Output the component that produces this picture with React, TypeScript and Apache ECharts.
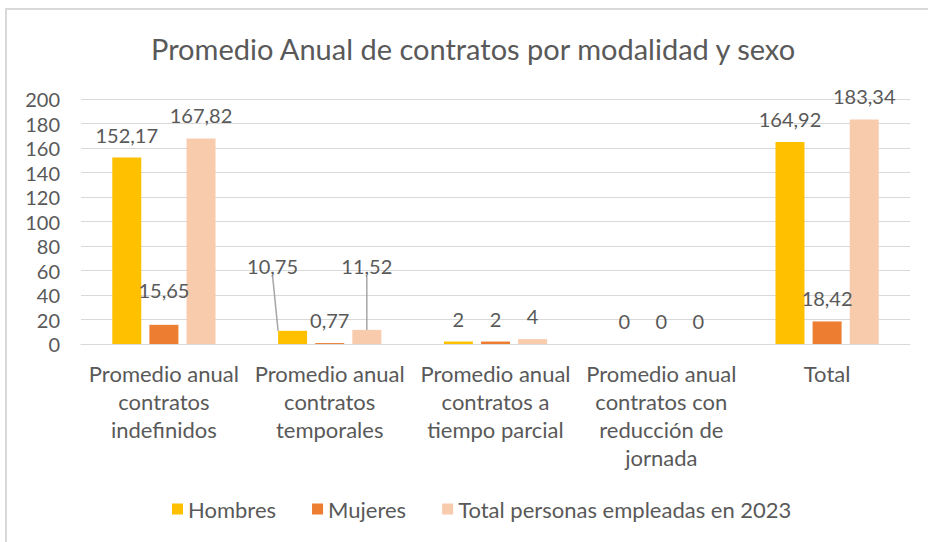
import React, { useEffect, useRef } from "react";
import * as echarts from "echarts";

const title = "Promedio Anual de contratos por modalidad y sexo";
const categories = [
  "Promedio anual\ncontratos\nindefinidos",
  "Promedio anual\ncontratos\ntemporales",
  "Promedio anual\ncontratos a\ntiempo parcial",
  "Promedio anual\ncontratos con\nreducción de\njornada",
  "Total",
];
const seriesNames = ["Hombres", "Mujeres", "Total personas empleadas en 2023"];
const hombres = [152.17, 10.75, 2, 0, 164.92];
const mujeres = [15.65, 0.77, 2, 0, 18.42];
const totalEmpleadas = [167.82, 11.52, 4, 0, 183.34];
const colors = ["#FFC000", "#ED7D31", "#F8CBAD"];
const yTicks = { min: 0, max: 200, interval: 20 };

// label displacements [series][category] = [dx, dy]
const labelShift: Record<string, [number, number]> = {
  "0-1": [-20, -42],
  "2-1": [0, -41],
  "1-0": [0, -12],
};
const leaderLines = new Set(["0-1", "2-1"]);

const TEXT = "#595959";
const FONT = "Lato";

function fmt(v: number): string {
  if (Number.isInteger(v)) return String(v);
  return v.toFixed(2).replace(".", ",");
}

export default function App() {
  const ref = useRef<HTMLDivElement>(null);
  useEffect(() => {
    document.body.style.margin = "0";
    if (!ref.current) return;
    const chart = echarts.init(ref.current, undefined, { renderer: "svg" });
    const allSeries = [hombres, mujeres, totalEmpleadas];
    const option: any = {
      animation: false,
      backgroundColor: "#ffffff",
      textStyle: { fontFamily: FONT, color: TEXT },
      title: {
        text: title,
        left: 146,
        top: 29,
        textStyle: { fontFamily: FONT, fontSize: 29, fontWeight: "normal", color: TEXT },
      },
      graphic: [
        {
          type: "rect",
          silent: true,
          z: -10,
          shape: { x: 6, y: 9, width: 960, height: 580 },
          style: { fill: "none", stroke: "#D9D9D9", lineWidth: 2 },
        },
      ],
      legend: {
        bottom: 17,
        left: 167,
        itemWidth: 11,
        itemHeight: 11,
        itemGap: 36,
        icon: "rect",
        textStyle: { fontFamily: FONT, fontSize: 22, color: TEXT },
        data: seriesNames,
      },
      grid: { left: 81, right: 18, top: 99, bottom: 198, containLabel: false },
      xAxis: {
        type: "category",
        data: categories,
        axisLine: { lineStyle: { color: "#D9D9D9", width: 1 } },
        axisTick: { show: false },
        axisLabel: {
          interval: 0,
          margin: 15,
          fontFamily: FONT,
          fontSize: 22,
          lineHeight: 28,
          color: TEXT,
        },
      },
      yAxis: {
        type: "value",
        min: yTicks.min,
        max: yTicks.max,
        interval: yTicks.interval,
        axisLine: { show: false },
        axisTick: { show: false },
        splitLine: { lineStyle: { color: "#D9D9D9", width: 1 } },
        axisLabel: { margin: 21, fontFamily: FONT, fontSize: 20, color: TEXT },
      },
      series: allSeries.map((vals, si) => ({
        name: seriesNames[si],
        type: "bar",
        barWidth: 29,
        barGap: "28%",
        itemStyle: { color: colors[si] },
        label: {
          show: true,
          position: "top",
          distance: 13,
          fontFamily: FONT,
          fontSize: 20,
          color: TEXT,
          formatter: (p: any) => fmt(p.value),
        },
        labelLine: { show: false, lineStyle: { color: "#A6A6A6", width: 1.5 } },
        labelLayout: (params: any) => {
          const s = labelShift[`${si}-${params.dataIndex}`];
          if (!s) return {};
          return { dx: s[0], dy: s[1] };
        },
        data: vals.map((v, ci) =>
          leaderLines.has(`${si}-${ci}`)
            ? { value: v, labelLine: { show: true, lineStyle: { color: "#A6A6A6", width: 1.5 } } }
            : v
        ),
      })),
    };
    chart.setOption(option);
    return () => chart.dispose();
  }, []);
  return <div ref={ref} style={{ width: 928, height: 542 }} />;
}
